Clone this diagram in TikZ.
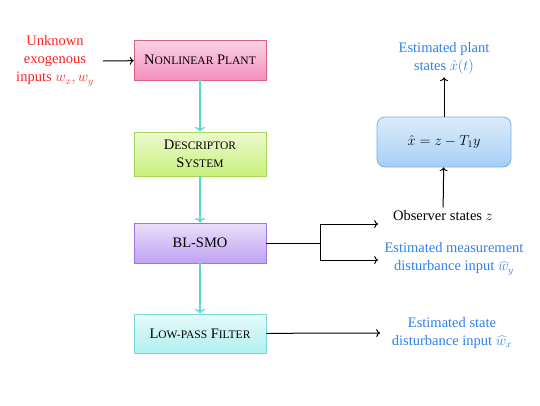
\documentclass[tikz,border=0pt]{standalone}
\usepackage{fontspec}
\setmainfont{Liberation Serif}
\usetikzlibrary{arrows.meta}

\definecolor{plantfill}{HTML}{F490BE}
\definecolor{plantdraw}{HTML}{D9607E}
\definecolor{descfill}{HTML}{C9F07A}
\definecolor{descdraw}{HTML}{A5D65A}
\definecolor{smofill}{HTML}{BFA3F2}
\definecolor{smodraw}{HTML}{9A78DC}
\definecolor{lpffill}{HTML}{AEF0EE}
\definecolor{lpfdraw}{HTML}{7DD8D8}
\definecolor{xhatfill}{HTML}{A6CFF5}
\definecolor{xhatdraw}{HTML}{7AAEE6}
\definecolor{flowline}{HTML}{5CD6D0}
\definecolor{inred}{HTML}{FF2020}
\definecolor{outblue}{HTML}{2E7FEF}

% fake small caps: big first letter, small rest
\newcommand{\bigsc}[1]{{\fontsize{14.5}{17}\selectfont #1}}
\newcommand{\smallsc}[1]{{\fontsize{11.5}{17}\selectfont #1}}

\begin{document}
\begin{tikzpicture}[x=1pt, y=-1pt, font=\fontsize{14.5}{18}\selectfont,
  block/.style={draw, line width=0.8pt, minimum width=132pt, minimum height=40pt, align=center, inner sep=2pt},
  flow/.style={->, flowline, line width=1.4pt},
  outarrow/.style={->, black, line width=1pt}]
\useasboundingbox (0,0) rectangle (540,405);

% Blocks
\node[block, draw=plantdraw, top color=plantfill!40, bottom color=plantfill] (plant) at (200,60)
  {\bigsc{N}\smallsc{ONLINEAR} \bigsc{P}\smallsc{LANT}};
\node[block, minimum height=44pt, draw=descdraw, top color=descfill!35, bottom color=descfill] (desc) at (200,154)
  {\bigsc{D}\smallsc{ESCRIPTOR}\\\bigsc{S}\smallsc{YSTEM}};
\node[block, draw=smodraw, top color=smofill!35, bottom color=smofill] (smo) at (200,243) {BL-SMO};
\node[block, minimum height=39pt, draw=lpfdraw, top color=lpffill!30, bottom color=lpffill] (lpf) at (200,333.5)
  {\bigsc{L}\smallsc{OW-PASS} \bigsc{F}\smallsc{ILTER}};
\node[block, rounded corners=8pt, minimum width=134pt, minimum height=50pt, draw=xhatdraw,
  top color=xhatfill!40, bottom color=xhatfill] (xhat) at (444,142) {$\hat{x} = z - T_1 y$};

% Texts
\node[inred, align=center] (inputs) at (55,61) {Unknown\\exogenous\\inputs $w_x, w_y$};
\node[outblue, align=center] (plantest) at (444,58) {Estimated plant\\states $\hat{x}(t)$};
\node (obs) at (443,216) {Observer states $z$};
\node[outblue, align=center] (wy) at (454,259) {Estimated measurement\\disturbance input $\widehat{w}_y$};
\node[outblue, align=center] (wx) at (452,333) {Estimated state\\disturbance input $\widehat{w}_x$};

\coordinate (inend) at (103,61);
\coordinate (split) at (320,243);
\coordinate (obsin) at (378,224);
\coordinate (wyin) at (378,260);
\coordinate (wxin) at (380,333);

% Edges
\draw[flow] (plant) -- (desc);
\draw[flow] (desc) -- (smo);
\draw[flow] (smo) -- (lpf);
\draw[outarrow] (inend) -- (plant);
\draw[line width=1pt] (smo) -- (split);
\draw[outarrow] (split) |- (obsin);
\draw[outarrow] (split) |- (wyin);
\draw[outarrow] (lpf) -- (wxin);
\draw[outarrow] (obs) -- (xhat);
\draw[outarrow] (xhat) -- (plantest);
\end{tikzpicture}
\end{document}
